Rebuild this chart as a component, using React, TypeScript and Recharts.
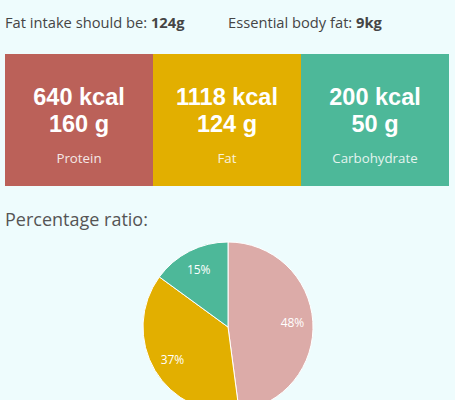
import { PieChart, Pie, Cell } from "recharts";

const categories = ["Protein", "Fat", "Carbohydrate"];
const kcalValues = [640, 1118, 200];
const gramValues = [160, 124, 50];
const fatIntake = "124g";
const essentialFat = "9kg";

const boxColors = ["#bb6159", "#e2af00", "#4db899"];
const pieColors = ["#dcaba8", "#e2af00", "#4db899"];

const RADIAN = Math.PI / 180;

const renderLabel = (props: any) => {
  const { cx, cy, midAngle, outerRadius, percent } = props;
  const r = outerRadius * 0.76;
  const x = cx + r * Math.cos(-midAngle * RADIAN);
  const y = cy + r * Math.sin(-midAngle * RADIAN);
  return (
    <text
      x={x}
      y={y}
      fill="#ffffff"
      textAnchor="middle"
      dominantBaseline="central"
      fontSize={12}
      fontFamily="'Open Sans', sans-serif"
    >
      {`${Math.round(percent * 100)}%`}
    </text>
  );
};

export default function App() {
  const pieData = categories.map((name, i) => ({ name, value: gramValues[i] }));

  return (
    <div
      style={{
        position: "fixed",
        left: 0,
        top: 0,
        width: 455,
        height: 400,
        overflow: "hidden",
        background: "#eefcfd",
        fontFamily: "'Open Sans', sans-serif",
        color: "#454545",
      }}
    >
      <div style={{ position: "absolute", left: 5, top: 12, fontSize: 14.7, whiteSpace: "nowrap" }}>
        Fat intake should be: <b>{fatIntake}</b>
      </div>
      <div style={{ position: "absolute", left: 228, top: 12, fontSize: 14.7, whiteSpace: "nowrap" }}>
        Essential body fat: <b>{essentialFat}</b>
      </div>

      <div style={{ position: "absolute", left: 5, top: 54, width: 444, height: 132, display: "flex" }}>
        {categories.map((c, i) => (
          <div
            key={c}
            style={{
              flex: 1,
              background: boxColors[i],
              color: "#ffffff",
              textAlign: "center",
            }}
          >
            <div
              style={{
                marginTop: 30,
                fontFamily: "'Liberation Sans', Arial, sans-serif",
                fontWeight: "bold",
                fontSize: 23.5,
                lineHeight: "27px",
              }}
            >
              {kcalValues[i]} kcal
              <br />
              {gramValues[i]} g
            </div>
            <div style={{ marginTop: 11, fontSize: 13.3, opacity: 0.85 }}>{c}</div>
          </div>
        ))}
      </div>

      <div style={{ position: "absolute", left: 5, top: 207, fontSize: 18, color: "#555" }}>
        Percentage ratio:
      </div>

      <div style={{ position: "absolute", left: 0, top: 0 }}>
        <PieChart width={455} height={440} margin={{ top: 0, right: 0, bottom: 0, left: 0 }}>
          <Pie
            data={pieData}
            dataKey="value"
            nameKey="name"
            cx={228}
            cy={327}
            outerRadius={85}
            startAngle={90}
            endAngle={-270}
            stroke="#ffffff"
            strokeWidth={1}
            label={renderLabel}
            labelLine={false}
            isAnimationActive={false}
          >
            {pieData.map((d, i) => (
              <Cell key={d.name} fill={pieColors[i]} />
            ))}
          </Pie>
        </PieChart>
      </div>
    </div>
  );
}
